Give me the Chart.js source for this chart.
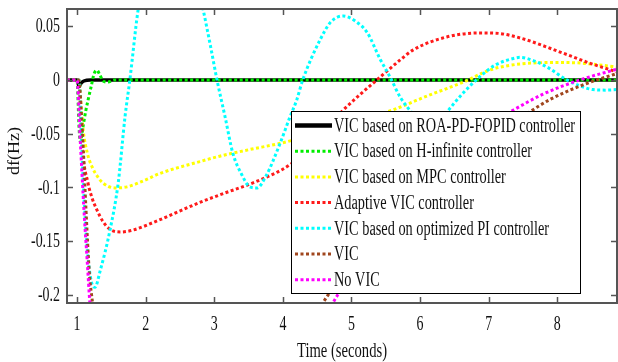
<!DOCTYPE html>
<html>
<head>
<meta charset="utf-8">
<script src="https://cdn.jsdelivr.net/npm/chart.js@4/dist/chart.umd.min.js"></script>
<style>
  html, body { margin: 0; padding: 0; background: #fff; }
  #wrap { width: 618px; height: 362px; }
</style>
</head>
<body>
<div id="wrap"><canvas id="dfChart" width="618" height="362"></canvas></div>
<script>
// tick values / labels
const xTicks = [1, 2, 3, 4, 5, 6, 7, 8];
const xTickLabels = ['1', '2', '3', '4', '5', '6', '7', '8'];
const yTicks = [-0.2, -0.15, -0.1, -0.05, 0, 0.05];
const yTickLabels = ['-0.2', '-0.15', '-0.1', '-0.05', '0', '0.05'];
const xTitle = 'Time (seconds)';
const yTitle = 'df(Hz)';

const seriesNames = [
    'VIC based on ROA-PD-FOPID controller',
    'VIC based on H-infinite controller',
    'VIC based on MPC controller',
    'Adaptive VIC controller',
    'VIC based on optimized PI controller',
    'VIC',
    'No VIC'
];
const seriesColors = ['#000000', '#00ee00', '#ffff00', '#ff1a1a', '#00ffff', '#a0461e', '#ff00ff'];

// ROA-PD-FOPID (black)
const roaT  = [0.85, 1.0, 1.03, 1.06, 1.1, 1.2, 8.87];
const roaDf = [0, 0, -0.006, -0.003, -0.001, 0, 0];

// H-infinite (green)
const hinfT  = [0.85, 1.0, 1.03, 1.05, 1.073, 1.13, 1.16, 1.21, 1.25, 1.29, 1.33, 1.38, 1.45, 1.55, 8.87];
const hinfDf = [0, 0, -0.045, -0.058, -0.049, -0.028, -0.019, -0.005, 0.006, 0.009, 0.005, -0.001, -0.002, 0, 0];

// MPC (yellow)
const mpcT  = [0.85, 1.03, 1.06, 1.09, 1.15, 1.22, 1.3, 1.38, 1.55, 1.73, 2.0, 2.21, 2.79, 3.08, 3.5, 3.96, 4.5, 5.0, 5.6, 6.1, 6.63, 7.02, 7.3, 7.65, 8.0, 8.33, 8.6, 8.87];
const mpcDf = [0, 0, -0.025, -0.047, -0.068, -0.081, -0.09, -0.096, -0.1005, -0.0995, -0.093, -0.087, -0.076, -0.071, -0.065, -0.059, -0.05, -0.04, -0.028, -0.015, -0.002, 0.0093, 0.0135, 0.0158, 0.0162, 0.0158, 0.014, 0.012];

// Adaptive (red)
const adaT  = [0.85, 1.03, 1.05, 1.08, 1.16, 1.22, 1.29, 1.38, 1.48, 1.63, 1.8, 2.21, 2.79, 3.08, 3.67, 4.1, 4.4, 4.7, 4.88, 5.1, 5.37, 5.71, 5.9, 6.39, 6.87, 7.1, 7.46, 8.08, 8.5, 8.87];
const adaDf = [0, 0, -0.03, -0.065, -0.096, -0.11, -0.121, -0.132, -0.139, -0.1415, -0.14, -0.13, -0.114, -0.107, -0.093, -0.079, -0.062, -0.04, -0.028, -0.015, 0, 0.0186, 0.028, 0.04, 0.0437, 0.0435, 0.039, 0.025, 0.015, 0.0075];

// optimized PI (cyan)
const piT  = [0.85, 1.03, 1.08, 1.14, 1.2, 1.26, 1.34, 1.48, 1.6, 1.7, 1.77, 1.89, 2.0, 2.36, 2.72, 2.84, 2.95, 3.04, 3.16, 3.27, 3.4, 3.52, 3.62, 3.75, 3.96, 4.1, 4.2, 4.29, 4.54, 4.7, 4.88, 5.05, 5.23, 5.42, 5.56, 5.71, 5.9, 6.15, 6.39, 6.63, 6.87, 7.1, 7.36, 7.46, 7.65, 7.85, 8.14, 8.35, 8.52, 8.7, 8.87];
const piDf = [0, 0, -0.08, -0.15, -0.185, -0.193, -0.177, -0.14, -0.096, -0.034, 0, 0.065, 0.1, 0.15, 0.1, 0.065, 0.03, 0, -0.035, -0.068, -0.088, -0.0996, -0.1006, -0.09, -0.059, -0.035, -0.019, 0, 0.037, 0.054, 0.0595, 0.055, 0.044, 0.019, 0.003, -0.016, -0.032, -0.05, -0.03, -0.012, 0.003, 0.014, 0.02, 0.021, 0.018, 0.012, 0, -0.006, -0.009, -0.0095, -0.009];

// VIC (brown)
const vicT  = [0.85, 1.02, 1.08, 1.13, 1.18, 1.23, 1.3, 1.6, 2.5, 3.5, 4.66, 5.0, 5.5, 6.0, 6.5, 7.0, 7.46, 7.9, 8.4, 8.87];
const vicDf = [0, 0, -0.05, -0.12, -0.18, -0.21, -0.26, -0.35, -0.4, -0.32, -0.2, -0.17, -0.13, -0.095, -0.07, -0.05, -0.035, -0.018, -0.004, 0.006];

// No VIC (magenta)
const noVicT  = [0.85, 1.0, 1.05, 1.1, 1.15, 1.19, 1.3, 1.6, 2.5, 3.5, 4.8, 5.2, 5.8, 6.4, 6.9, 7.36, 7.8, 8.33, 8.87];
const noVicDf = [0, 0, -0.06, -0.12, -0.17, -0.21, -0.28, -0.36, -0.42, -0.34, -0.2, -0.16, -0.11, -0.072, -0.045, -0.028, -0.013, 0, 0.01];

const FONT = '"Liberation Serif", "Times New Roman", serif';

function pts(t, v) {
    return t.map(function(x, i) { return { x: x, y: v[i] }; });
}

const seriesData = [
    pts(roaT, roaDf), pts(hinfT, hinfDf), pts(mpcT, mpcDf), pts(adaT, adaDf),
    pts(piT, piDf), pts(vicT, vicDf), pts(noVicT, noVicDf)
];

const datasets = seriesNames.map(function(name, i) {
    return {
        label: name,
        data: seriesData[i],
        borderColor: seriesColors[i],
        borderWidth: i === 0 ? 3.5 : 3,
        borderDash: i === 0 ? [] : [3, 2.5],
        borderCapStyle: 'butt',
        pointRadius: 0,
        cubicInterpolationMode: 'monotone',
        fill: false,
        clip: 0,
        order: seriesNames.length - i
    };
});

// text squeezed sideways like the original figure
function narrowText(ctx, text, x, y, sx, align) {
    ctx.save();
    ctx.translate(x, y);
    ctx.scale(sx, 1);
    ctx.textAlign = align;
    ctx.fillText(text, 0, 0);
    ctx.restore();
}

// frame, inward ticks, labels and the boxed legend
const framePlugin = {
    id: 'frame',
    afterDraw: function(chart) {
        const ctx = chart.ctx;
        const a = chart.chartArea;
        const xs = chart.scales.x, ys = chart.scales.y;
        ctx.save();
        ctx.strokeStyle = '#555';
        ctx.lineWidth = 2;
        ctx.strokeRect(a.left, a.top, a.right - a.left, a.bottom - a.top);
        ctx.lineWidth = 1.5;
        ctx.beginPath();
        xTicks.forEach(function(v) {
            const px = Math.round(xs.getPixelForValue(v)) + 0.5;
            ctx.moveTo(px, a.bottom); ctx.lineTo(px, a.bottom - 6);
            ctx.moveTo(px, a.top); ctx.lineTo(px, a.top + 6);
        });
        yTicks.forEach(function(v) {
            const py = Math.round(ys.getPixelForValue(v)) + 0.5;
            ctx.moveTo(a.left, py); ctx.lineTo(a.left + 6, py);
            ctx.moveTo(a.right, py); ctx.lineTo(a.right - 6, py);
        });
        ctx.stroke();

        // tick labels and titles
        ctx.fillStyle = '#111';
        ctx.font = '20px ' + FONT;
        ctx.textBaseline = 'middle';
        const sTick = 29 / ctx.measureText('-0.15').width;
        xTicks.forEach(function(v, i) {
            narrowText(ctx, xTickLabels[i], xs.getPixelForValue(v), 325, sTick, 'center');
        });
        yTicks.forEach(function(v, i) {
            narrowText(ctx, yTickLabels[i], a.left - 7, ys.getPixelForValue(v) + 1, sTick, 'right');
        });
        const sTitle = 90 / ctx.measureText(xTitle).width;
        narrowText(ctx, xTitle, 342, 352, sTitle, 'center');

        ctx.save();
        ctx.font = '19px ' + FONT;
        ctx.translate(15, 151);
        ctx.rotate(-Math.PI / 2);
        ctx.scale(48 / ctx.measureText(yTitle).width, 0.85);
        ctx.textAlign = 'center';
        ctx.fillText(yTitle, 0, 0);
        ctx.restore();

        // legend
        const lx = 291, ly = 111, lw = 289, lh = 182;
        ctx.fillStyle = '#fff';
        ctx.fillRect(lx, ly, lw, lh);
        ctx.strokeStyle = '#000';
        ctx.lineWidth = 1;
        ctx.strokeRect(lx + 0.5, ly + 0.5, lw, lh);
        ctx.font = '20px ' + FONT;
        ctx.textBaseline = 'middle';
        const sLeg = 241 / ctx.measureText(seriesNames[0]).width;
        seriesNames.forEach(function(name, i) {
            const y = ly + 14.5 + i * 25.7;
            ctx.beginPath();
            ctx.strokeStyle = seriesColors[i];
            ctx.lineWidth = i === 0 ? 4.5 : 3;
            ctx.setLineDash(i === 0 ? [] : [3, 2.5]);
            ctx.moveTo(lx + 4, y);
            ctx.lineTo(lx + 41, y);
            ctx.stroke();
            ctx.setLineDash([]);
            ctx.fillStyle = '#111';
            narrowText(ctx, name, lx + 43, y + 1, sLeg, 'left');
        });
        ctx.restore();
    }
};

document.addEventListener('DOMContentLoaded', function() {
    const el = document.getElementById('dfChart');
    new Chart(el.getContext('2d'), {
        type: 'line',
        data: { datasets: datasets },
        options: {
            responsive: false,
            animation: false,
            layout: { padding: { top: 9, right: 1, left: 0, bottom: 0 } },
            plugins: {
                legend: { display: false },
                tooltip: { enabled: false }
            },
            scales: {
                x: {
                    type: 'linear',
                    min: 0.854,
                    max: 8.87,
                    afterBuildTicks: function(s) { s.ticks = xTicks.map(function(v) { return { value: v }; }); },
                    afterFit: function(s) { s.height = 59; },
                    grid: { display: false },
                    border: { display: false },
                    ticks: { display: false }
                },
                y: {
                    type: 'linear',
                    min: -0.2076,
                    max: 0.066,
                    afterBuildTicks: function(s) { s.ticks = yTicks.map(function(v) { return { value: v }; }); },
                    afterFit: function(s) { s.width = 67; },
                    grid: { display: false },
                    border: { display: false },
                    ticks: { display: false }
                }
            }
        },
        plugins: [framePlugin]
    });
});
</script>
</body>
</html>
